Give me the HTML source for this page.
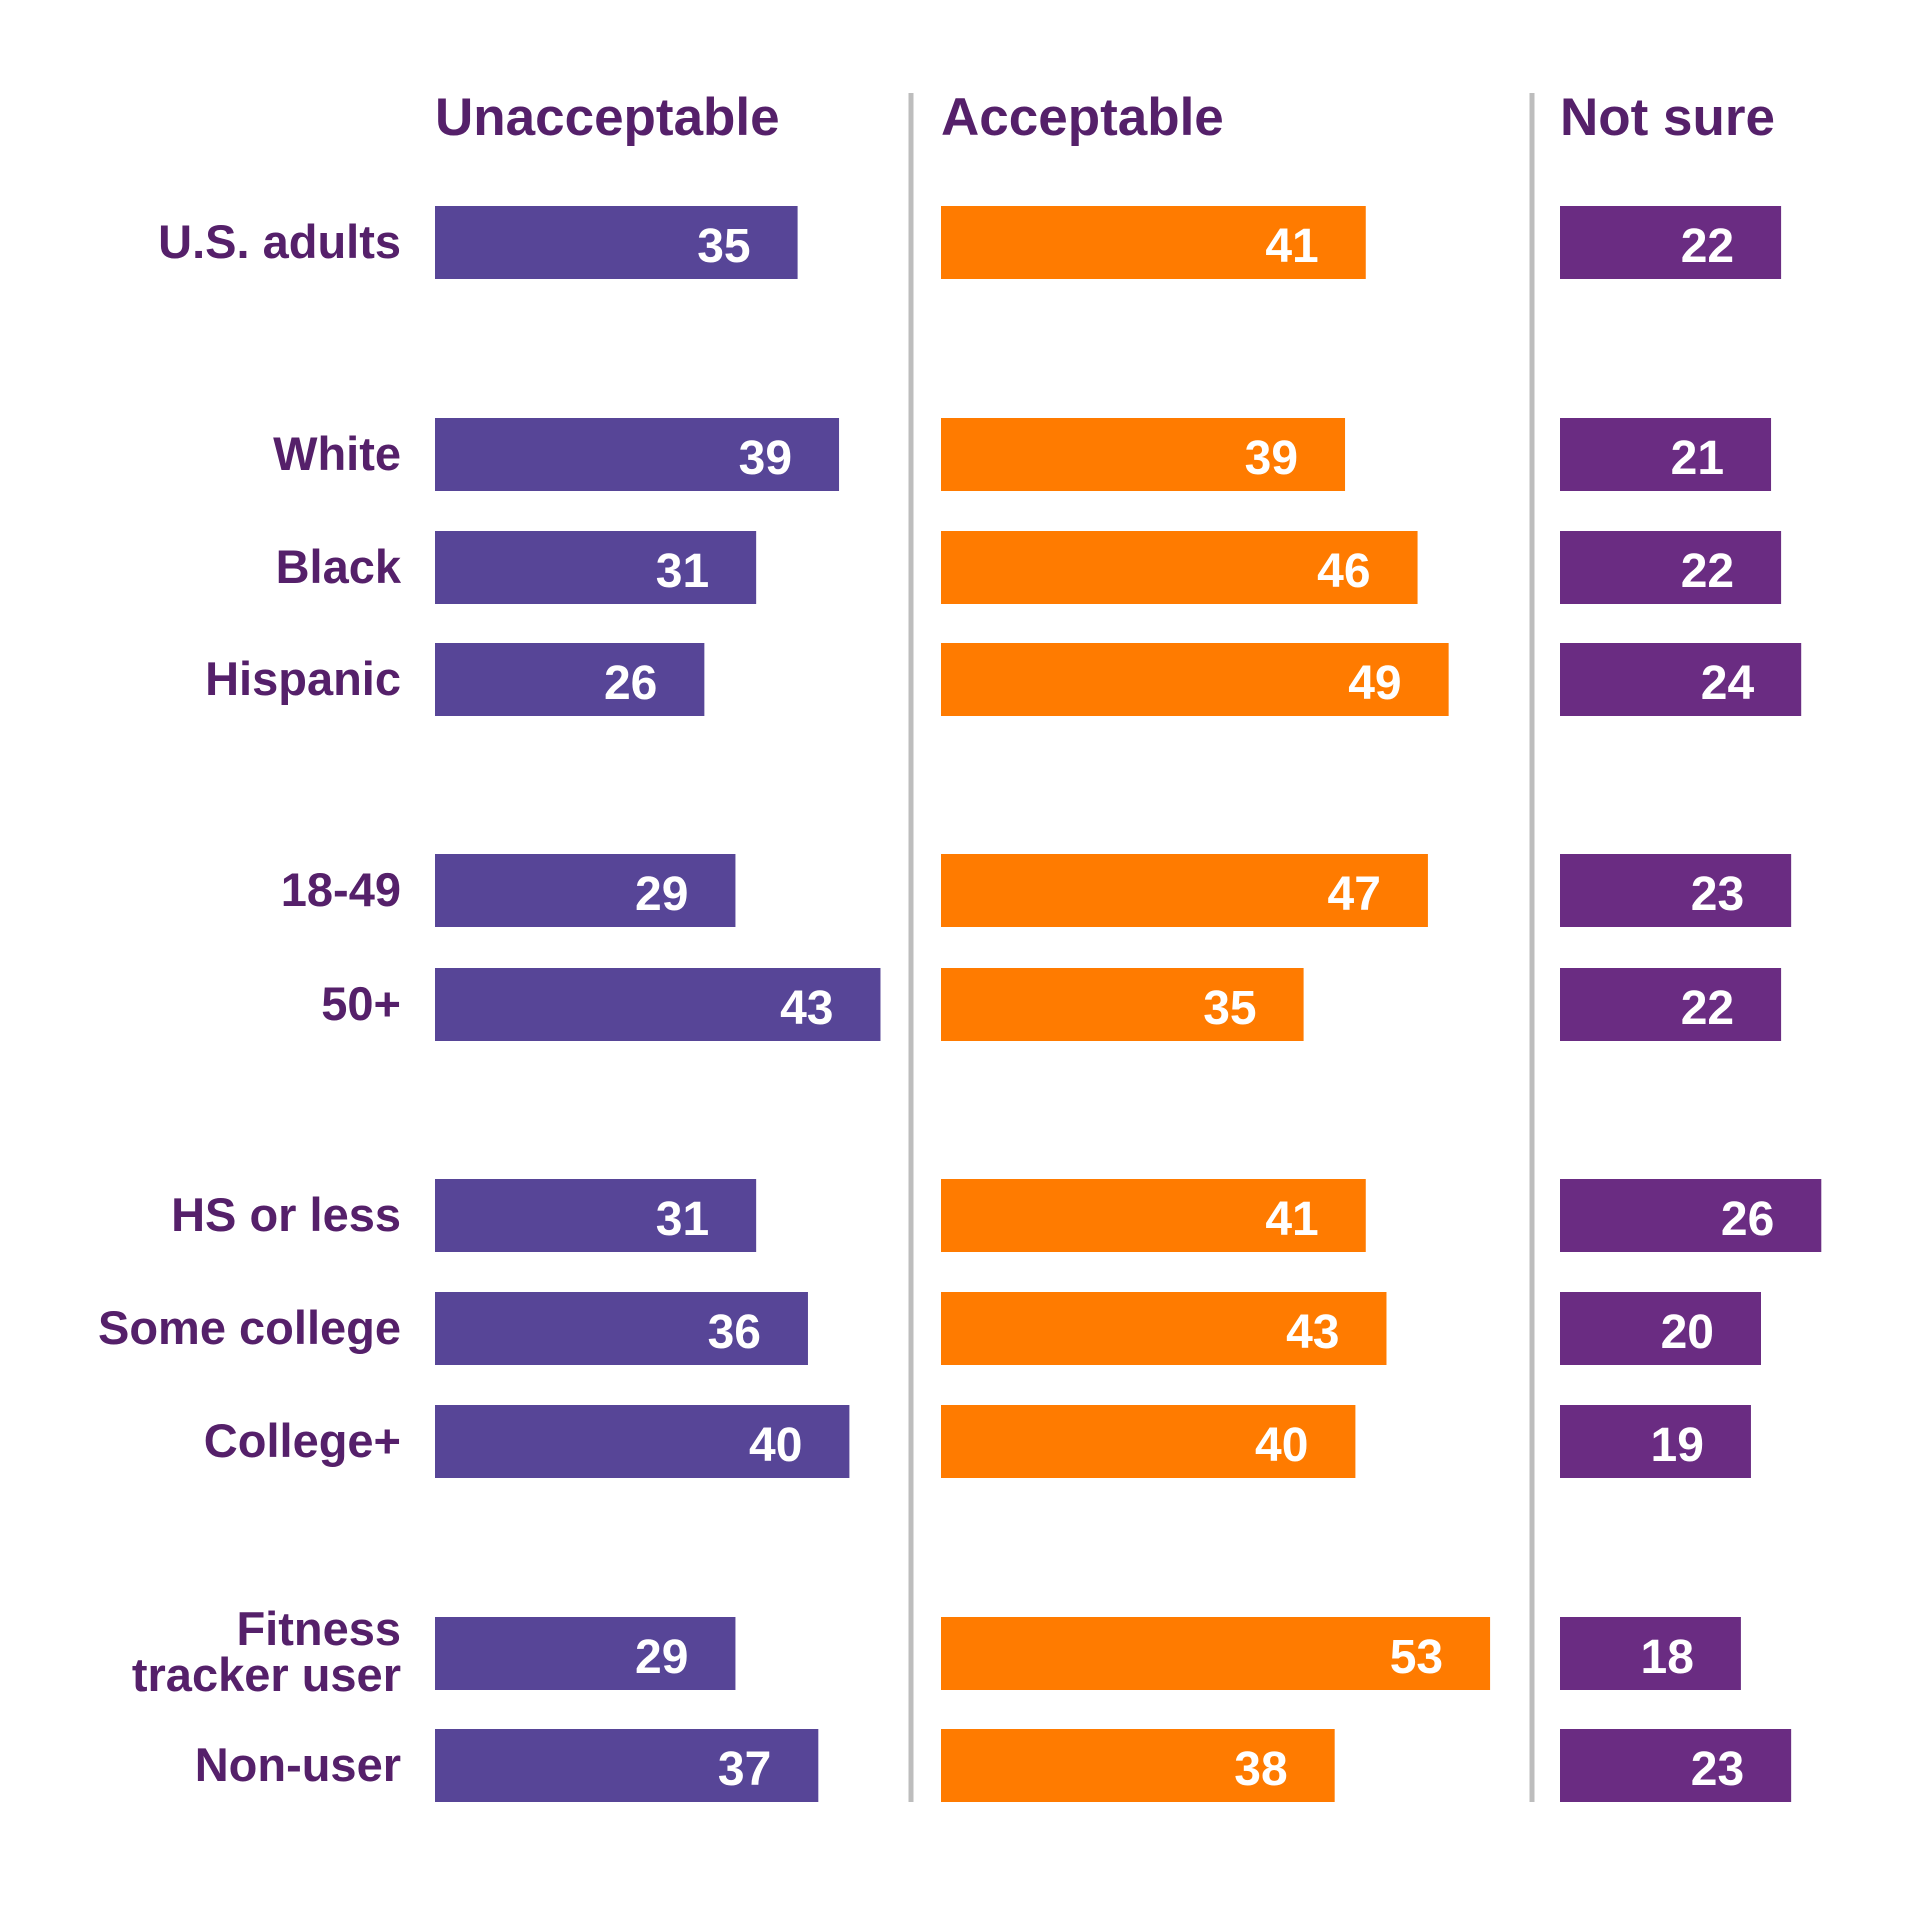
<!DOCTYPE html>
<html><head><meta charset="utf-8"><style>
html,body{margin:0;padding:0;background:#fff;}
svg{display:block;font-family:"Liberation Sans",sans-serif;font-weight:bold;}
</style></head><body>
<svg id="chart" width="1920" height="1913" viewBox="0 0 1920 1913" xmlns="http://www.w3.org/2000/svg">
<rect x="0" y="0" width="1920" height="1913" fill="#fff"/>
<line x1="911" y1="93" x2="911" y2="1802" stroke="#bdbdbd" stroke-width="5"/>
<line x1="1532" y1="93" x2="1532" y2="1802" stroke="#bdbdbd" stroke-width="5"/>
<g id="marks"></g>
</svg>
<script>
const categories = [["U.S. adults"],["White"],["Black"],["Hispanic"],["18-49"],["50+"],["HS or less"],["Some college"],["College+"],["Fitness","tracker user"],["Non-user"]];
const seriesNames = ["Unacceptable","Acceptable","Not sure"];
const unacceptable = [35,39,31,26,29,43,31,36,40,29,37];
const acceptable = [41,39,46,49,47,35,41,43,40,53,38];
const notSure = [22,21,22,24,23,22,26,20,19,18,23];

const NS="http://www.w3.org/2000/svg";
const g=document.getElementById('marks');
const rowTops=[206,418,531,643,854,968,1179,1292,1405,1617,1729];
const barH=73;
const cols=[
 {name:seriesNames[0],vals:unacceptable,x0:435,k:10.36,color:"#574597"},
 {name:seriesNames[1],vals:acceptable,x0:941,k:10.36,color:"#FF7B00"},
 {name:seriesNames[2],vals:notSure,x0:1560,k:10.05,color:"#6A2C82"}];
function xScale(c,v){return c.x0+v*c.k;}
function mk(tag,attrs){const e=document.createElementNS(NS,tag);for(const a in attrs)e.setAttribute(a,attrs[a]);g.appendChild(e);return e;}
cols.forEach((c,ci)=>{
  const h=mk('text',{x:c.x0,y:135,fill:"#55206A","font-size":53});
  h.textContent=c.name;
  
  
  c.vals.forEach((v,i)=>{
    const y=rowTops[i];
    const r=mk('rect',{x:c.x0,y:y,width:xScale(c,v)-c.x0,height:barH,fill:c.color});
    
    
    const t=mk('text',{x:xScale(c,v)-47,y:y+56,fill:"#fff","font-size":48,"text-anchor":"end"});
    t.textContent=v;
    
    
  });
});
categories.forEach((lines,i)=>{
  const y=rowTops[i];
  const t=mk('text',{x:401,y:lines.length>1?y+28:y+52,fill:"#55206A","font-size":47,"text-anchor":"end"});
  
  
  lines.forEach((l,j)=>{
    const s=document.createElementNS(NS,'tspan');
    s.setAttribute('x',401);
    if(j>0)s.setAttribute('dy',46);
    s.textContent=l;
    t.appendChild(s);
  });
});
</script>
</body></html>
